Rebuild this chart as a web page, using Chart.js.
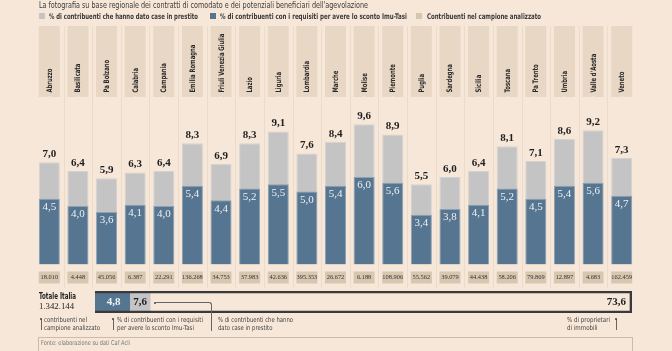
<!DOCTYPE html>
<html><head><meta charset="utf-8">
<script src="https://cdn.jsdelivr.net/npm/chart.js@4/dist/chart.umd.min.js"></script>
<style>
html,body{margin:0;padding:0;}
body{width:672px;height:351px;background:#f6e7d8;position:relative;overflow:hidden;font-family:"Liberation Sans Narrow","DejaVu Sans Condensed","DejaVu Sans",sans-serif;color:#333;}
#main{position:absolute;left:0;top:0;}
.t{position:absolute;white-space:nowrap;transform-origin:left top;}
#title{left:39px;top:0px;font-size:8.8px;color:#3a3a3a;}
.leg{position:absolute;top:12px;font-size:7.8px;font-weight:bold;white-space:nowrap;color:#3a3a3a;transform-origin:left top;}
.sq{position:absolute;top:13px;width:6px;height:6px;}
#totwrap{position:absolute;left:95px;top:291px;}
.ann{position:absolute;font-size:6.8px;line-height:8.2px;color:#444;white-space:nowrap;transform-origin:left top;}
.vl{position:absolute;width:0;border-left:1px solid #666;}
.dot{position:absolute;width:2px;height:2px;background:#444;border-radius:1px;}
</style></head>
<body>
<canvas id="main" width="672" height="351"></canvas>
<div class="t" id="title" data-w="329">La fotografia su base regionale dei contratti di comodato e dei potenziali beneficiari dell'agevolazione</div>
<div class="sq" style="left:39px;background:#c4c4c4;"></div>
<div class="leg" style="left:49px;" data-w="149">% di contribuenti che hanno dato case in prestito</div>
<div class="sq" style="left:210px;background:#557591;"></div>
<div class="leg" style="left:220px;" data-w="187">% di contribuenti con i requisiti per avere lo sconto Imu-Tasi</div>
<div class="sq" style="left:416px;background:#d6c6b0;"></div>
<div class="leg" style="left:427px;" data-w="114">Contribuenti nel campione analizzato</div>

<div class="t" style="left:39px;top:291px;font-size:8.6px;font-weight:bold;color:#222;" data-w="37">Totale Italia</div>
<div class="t" id="totcount" style="left:39px;top:301px;font-size:9px;font-family:'Liberation Serif',serif;color:#222;" data-w="35"></div>
<div id="totwrap"><canvas id="tot" width="537" height="22"></canvas></div>

<div class="vl" style="left:41px;top:319px;height:11px;"></div><div class="dot" style="left:40px;top:318px;"></div>
<div class="ann" style="left:44px;top:316px;" data-w="56">contribuenti nel<br>campione analizzato</div>
<div class="vl" style="left:113px;top:319px;height:11px;"></div><div class="dot" style="left:112px;top:318px;"></div>
<div class="ann" style="left:117px;top:316px;" data-w="86">% di contribuenti con i requisiti<br>per avere lo sconto Imu-Tasi</div>
<div class="dot" style="left:154px;top:302px;"></div>
<div style="position:absolute;left:156px;top:302px;width:55px;height:28px;border-top:1px solid #666;border-right:1px solid #666;border-top-right-radius:3px;"></div>
<div class="ann" style="left:218px;top:316px;" data-w="75">% di contribuenti che hanno<br>dato case in prestito</div>
<div class="ann" style="left:567px;top:316px;" data-w="43">% di proprietari<br>di immobili</div>
<div class="vl" style="left:616px;top:319px;height:11px;"></div><div class="dot" style="left:615px;top:318px;"></div>

<div style="position:absolute;left:38px;top:337px;width:593px;height:20px;border:1px solid #cbbba8;"></div>
<div class="ann" style="left:41px;top:339px;color:#777;font-size:6.6px;" data-w="89">Fonte: elaborazione su dati Caf Acli</div>

<script>
const regions = ["Abruzzo","Basilicata","Pa Bolzano","Calabria","Campania","Emilia Romagna","Friuli Venezia Giulia","Lazio","Liguria","Lombardia","Marche","Molise","Piemonte","Puglia","Sardegna","Sicilia","Toscana","Pa Trento","Umbria","Valle d'Aosta","Veneto"];
const lentPct = [7.0,6.4,5.9,6.3,6.4,8.3,6.9,8.3,9.1,7.6,8.4,9.6,8.9,5.5,6.0,6.4,8.1,7.1,8.6,9.2,7.3];
const eligiblePct = [4.5,4.0,3.6,4.1,4.0,5.4,4.4,5.2,5.5,5.0,5.4,6.0,5.6,3.4,3.8,4.1,5.2,4.5,5.4,5.6,4.7];
const sampleCounts = ["18.010","4.448","45.056","6.387","22.291","136.268","34.753","37.983","42.636","395.353","26.672","6.188","108.906","55.562","39.079","44.438","58.206","79.869","12.897","4.683","162.459"];
const totalLabel = ["Totale Italia"];
const totalCount = "1.342.144";
const totalEligible = [4.8];
const totalLent = [7.6];
const totalOwners = [73.6];

document.getElementById('totcount').textContent = totalCount;
const fmt = v => v.toFixed(1).replace('.', ',');

// fit label widths to the reference
document.querySelectorAll('[data-w]').forEach(el => {
  const w = el.getBoundingClientRect().width;
  const t = +el.dataset.w;
  if (w > 0) el.style.transform = 'scaleX(' + (t / w) + ')';
});

const BG = '#f6e7d8', BAND = '#e8d7c4', BOX = '#d7c7b1', SEP = '#eadbcb';
const GRAY = '#c4c4c4', BLUE = '#557591';
const SANS = '"Liberation Sans Narrow","DejaVu Sans Condensed","DejaVu Sans",sans-serif';
const SERIF = '"Liberation Serif","DejaVu Serif",serif';

const decor = {
  id: 'decor',
  beforeDatasetsDraw(chart) {
    const ctx = chart.ctx, xs = chart.scales.x;
    const w = xs.getPixelForValue(1) - xs.getPixelForValue(0);
    const bw = w * 0.734;
    ctx.save();
    ctx.strokeStyle = SEP; ctx.lineWidth = 1;
    for (let i = 0; i < regions.length - 1; i++) {
      const x = Math.round((xs.getPixelForValue(i) + xs.getPixelForValue(i + 1)) / 2) + 0.5;
      ctx.beginPath(); ctx.moveTo(x, 26); ctx.lineTo(x, 288); ctx.stroke();
    }
    ctx.font = 'bold 7.6px ' + SANS;
    const sx = 24 / ctx.measureText('Abruzzo').width;
    for (let i = 0; i < regions.length; i++) {
      const c = xs.getPixelForValue(i);
      ctx.fillStyle = BAND;
      ctx.fillRect(c - bw / 2, 26, bw, 71);
      ctx.fillStyle = '#f3e4d4';
      ctx.fillRect(c - 1, 96, 2, 2);
      ctx.fillStyle = BOX;
      ctx.fillRect(c - bw / 2, 271.5, bw, 12);
      // region name (rotated)
      ctx.save();
      ctx.translate(c + 0.5, 92.5);
      ctx.rotate(-Math.PI / 2);
      ctx.scale(sx, 1);
      ctx.fillStyle = '#2a2a2a';
      ctx.font = 'bold 7.6px ' + SANS;
      ctx.textAlign = 'left'; ctx.textBaseline = 'middle';
      ctx.fillText(regions[i], 0, 0);
      ctx.restore();
      // sample count
      ctx.fillStyle = '#333';
      ctx.font = '6.4px ' + SERIF;
      ctx.textAlign = 'center'; ctx.textBaseline = 'middle';
      ctx.fillText(sampleCounts[i], c, 277.5);
    }
    ctx.restore();
  },
  afterDatasetsDraw(chart) {
    const ctx = chart.ctx;
    const mg = chart.getDatasetMeta(1), mb = chart.getDatasetMeta(0);
    ctx.save();
    ctx.textAlign = 'center'; ctx.textBaseline = 'middle';
    for (let i = 0; i < regions.length; i++) {
      const g = mg.data[i], b = mb.data[i];
      ctx.fillStyle = '#1e1e1e';
      ctx.font = 'bold 11px ' + SERIF;
      ctx.fillText(fmt(lentPct[i]), g.x, g.y - 8);
      ctx.fillStyle = '#eef0f2';
      ctx.font = '11px ' + SERIF;
      ctx.fillText(fmt(eligiblePct[i]), b.x, b.y + 8.5);
    }
    ctx.restore();
  }
};

new Chart(document.getElementById('main'), {
  type: 'bar',
  data: {
    labels: regions,
    datasets: [
      { label: 'eligible', data: eligiblePct, backgroundColor: BLUE, borderColor: '#8fa2b3', borderWidth: 1, grouped: false, order: 0, barPercentage: 1, categoryPercentage: 0.734 },
      { label: 'lent', data: lentPct, backgroundColor: GRAY, borderColor: '#d3d3d3', borderWidth: 1, grouped: false, order: 1, barPercentage: 1, categoryPercentage: 0.734 }
    ]
  },
  options: {
    responsive: false, animation: false, devicePixelRatio: 1,
    layout: { padding: { left: 35, right: 36, top: 26, bottom: 86.5 } },
    plugins: { legend: { display: false }, tooltip: { enabled: false } },
    scales: {
      x: {
        position: 'top', offset: true,
        grid: { display: false, drawTicks: false }, border: { display: false },
        ticks: { display: false },
        afterFit(s) { s.height = 71; }
      },
      y: { display: false, min: 0, max: 11.47 }
    }
  },
  plugins: [decor]
});

const totLabels = {
  id: 'totLabels',
  afterDatasetsDraw(chart) {
    const ctx = chart.ctx;
    const b = chart.getDatasetMeta(1).data[0], g = chart.getDatasetMeta(2).data[0], o = chart.getDatasetMeta(0).data[0];
    ctx.save();
    ctx.textBaseline = 'middle'; ctx.textAlign = 'center';
    ctx.font = 'bold 11px ' + SERIF;
    ctx.fillStyle = '#eef0f2';
    ctx.fillText(fmt(totalEligible[0]), (b.base + b.x) / 2 + 1, b.y + 0.5);
    ctx.fillStyle = '#1e1e1e';
    ctx.fillText(fmt(totalLent[0]), (b.x + g.x) / 2, g.y + 0.5);
    ctx.textAlign = 'right';
    ctx.fillText(fmt(totalOwners[0]), o.x - 6, o.y + 0.5);
    ctx.restore();
  }
};

new Chart(document.getElementById('tot'), {
  type: 'bar',
  data: {
    labels: totalLabel,
    datasets: [
      { data: totalOwners, backgroundColor: 'rgba(0,0,0,0)', borderColor: '#3a3a3a', borderWidth: 2, grouped: false, order: 0, barPercentage: 1, categoryPercentage: 1 },
      { data: totalEligible, backgroundColor: BLUE, borderWidth: 0, grouped: false, order: 1, barPercentage: 0.84, categoryPercentage: 1 },
      { data: totalLent, backgroundColor: GRAY, borderWidth: 0, grouped: false, order: 2, barPercentage: 0.84, categoryPercentage: 1 }
    ]
  },
  options: {
    indexAxis: 'y', responsive: false, animation: false, devicePixelRatio: 1,
    layout: { padding: 0 },
    plugins: { legend: { display: false }, tooltip: { enabled: false } },
    scales: {
      x: { display: false, min: 0, max: 73.6 },
      y: { display: false }
    }
  },
  plugins: [totLabels]
});
</script>
</body></html>
